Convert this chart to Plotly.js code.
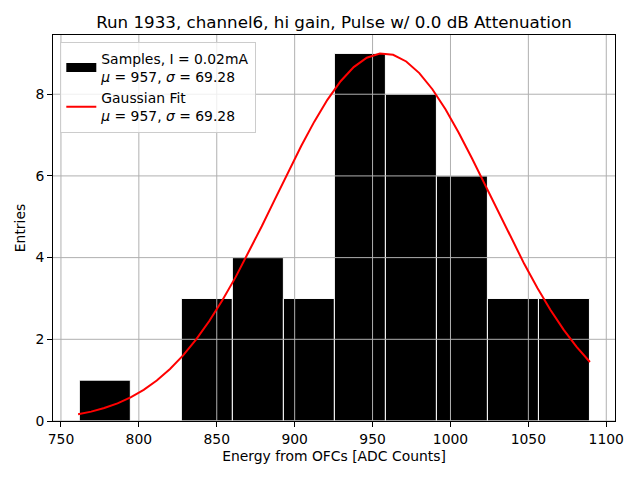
<!DOCTYPE html>
<html>
<head>
<meta charset="utf-8">
<script src="https://cdn.plot.ly/plotly-3.0.1.min.js"></script>
<style>html,body{margin:0;padding:0;background:#fff}#chart{width:640px;height:480px}</style>
</head>
<body>
<div id="chart"></div>
<script>
// Histogram data
const binEdges = [761.8, 794.54, 827.28, 860.02, 892.76, 925.5, 958.24, 990.98, 1023.72, 1056.46, 1089.2];
const counts = [1, 0, 3, 4, 3, 9, 8, 6, 3, 3];

// Gaussian fit curve samples
const fitX = [761.0, 769.4, 777.8, 786.3, 794.7, 803.1, 811.5, 820.0, 828.4, 836.8,
              845.2, 853.7, 862.1, 870.5, 878.9, 887.3, 895.8, 904.2, 912.6, 921.0,
              929.5, 937.9, 946.3, 954.7, 963.2, 971.6, 980.0, 988.4, 996.8, 1005.3,
              1013.7, 1022.1, 1030.5, 1039.0, 1047.4, 1055.8, 1064.2, 1072.7, 1081.1, 1089.5];
const fitY = [0.165, 0.230, 0.317, 0.432, 0.579, 0.763, 0.992, 1.274, 1.607, 1.998,
              2.448, 2.961, 3.522, 4.128, 4.767, 5.426, 6.092, 6.732, 7.329, 7.863,
              8.318, 8.664, 8.893, 8.995, 8.964, 8.802, 8.517, 8.122, 7.631, 7.058,
              6.438, 5.788, 5.127, 4.467, 3.842, 3.256, 2.719, 2.231, 1.809, 1.445];

// Tick labels
const xTicks = [750, 800, 850, 900, 950, 1000, 1050, 1100];
const yTicks = [0, 2, 4, 6, 8];

const xRange = [744.9, 1105.6];
const yRange = [0, 9.45];

const titleText = "Run 1933, channel6, hi gain, Pulse w/ 0.0 dB Attenuation";
const samplesName = "Samples, I = 0.02mA<br><i>μ</i> = 957, <i>σ</i> = 69.28";
const fitName = "Gaussian Fit<br><i>μ</i> = 957, <i>σ</i> = 69.28";

const centers = counts.map((c, i) => (binEdges[i] + binEdges[i + 1]) / 2);
const widths = counts.map((c, i) => binEdges[i + 1] - binEdges[i]);

// grid lines (drawn above bars, below fit line, as in the reference)
const gx = [], gy = [];
xTicks.forEach(t => { gx.push(t, t, null); gy.push(yRange[0], yRange[1], null); });
yTicks.forEach(t => { gx.push(xRange[0], xRange[1], null); gy.push(t, t, null); });

const font = "DejaVu Sans, sans-serif";
const fs = 13.9;

const traces = [
  {
    type: "bar", x: centers, y: counts, width: widths,
    marker: {color: "#000000", line: {color: "#ffffff", width: 1}},
    showlegend: false, hoverinfo: "skip"
  },
  {
    type: "scatter", mode: "lines", x: gx, y: gy,
    line: {color: "#b0b0b0", width: 1},
    showlegend: false, hoverinfo: "skip"
  },
  {
    type: "scatter", mode: "lines", x: [null], y: [null],
    name: samplesName,
    line: {color: "#000000", width: 9}
  },
  {
    type: "scatter", mode: "lines", x: fitX, y: fitY,
    name: fitName,
    line: {color: "#ff0000", width: 2}
  }
];

const layout = {
  width: 640, height: 480,
  margin: {l: 53, r: 25, t: 35, b: 59, pad: 0},
  paper_bgcolor: "#ffffff", plot_bgcolor: "#ffffff",
  font: {family: font, size: fs, color: "#000000"},
  title: {text: titleText, font: {family: font, size: 16.7, color: "#000"},
          x: 0.5, xref: "paper", y: 0.953, yref: "container", yanchor: "middle"},
  bargap: 0,
  xaxis: {
    range: xRange, tickvals: xTicks, ticktext: xTicks.map(String),
    showgrid: false, zeroline: false,
    showline: true, linecolor: "#000", linewidth: 1, mirror: true,
    ticks: "outside", ticklen: 5, tickwidth: 1, tickcolor: "#000",
    tickfont: {family: font, size: fs},
    title: {text: "Energy from OFCs [ADC Counts]", font: {family: font, size: fs}, standoff: 5}
  },
  yaxis: {
    range: yRange, tickvals: yTicks, ticktext: yTicks.map(String),
    showgrid: false, zeroline: false,
    showline: true, linecolor: "#000", linewidth: 1, mirror: true,
    ticks: "outside", ticklen: 5, tickwidth: 1, tickcolor: "#000",
    tickfont: {family: font, size: fs},
    title: {text: "Entries", font: {family: font, size: fs}, standoff: 6}
  },
  legend: {
    x: 0.013, y: 0.982, xanchor: "left", yanchor: "top",
    bgcolor: "rgba(255,255,255,0.8)", bordercolor: "#cccccc", borderwidth: 1,
    font: {family: font, size: fs}, traceorder: "normal",
    itemwidth: 30, tracegroupgap: 4
  },
  showlegend: true
};

Plotly.newPlot("chart", traces, layout, {displayModeBar: false, staticPlot: true});
</script>
</body>
</html>
